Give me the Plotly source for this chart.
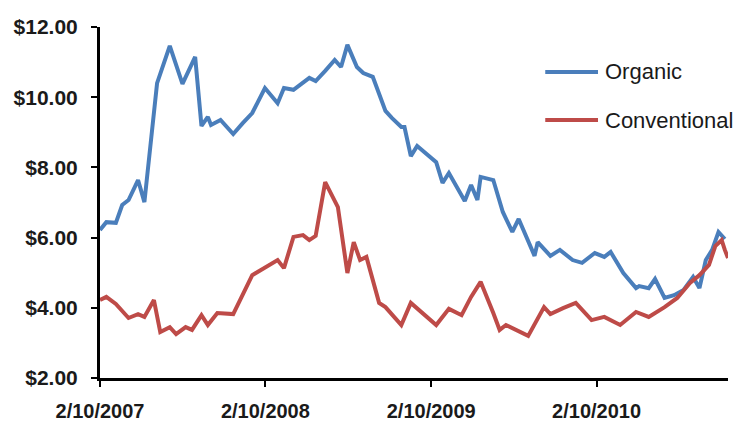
import pandas as pd
import plotly.graph_objects as go

# ---- data (weekly series, weeks counted from 2/10/2007) ----
start_date = "2007-02-10"

organic_weeks = [0, 2, 5, 7, 9, 12, 14, 18, 22, 26, 30, 32, 34, 35, 38, 42, 45, 48, 52, 56,
                 58, 61, 66, 68, 71, 74, 76, 78, 81, 83, 86, 90, 92, 95, 96, 98, 100, 106, 108, 110,
                 115, 117, 119, 120, 124, 127, 130, 132, 137, 138, 142, 145, 149, 152, 156, 159, 161, 165, 169, 170,
                 173, 175, 178, 181, 184, 187, 189, 191, 193, 195, 197]
organic_price = [6.22, 6.44, 6.42, 6.93, 7.07, 7.64, 7.01, 10.40, 11.46, 10.38, 11.15, 9.18, 9.44, 9.21, 9.35, 8.95, 9.26, 9.55, 10.26, 9.83,
                 10.26, 10.21, 10.55, 10.46, 10.75, 11.06, 10.86, 11.49, 10.86, 10.69, 10.58, 9.61, 9.41, 9.15, 9.15, 8.32, 8.61, 8.15, 7.56, 7.84,
                 7.04, 7.50, 7.07, 7.73, 7.64, 6.73, 6.16, 6.53, 5.48, 5.87, 5.48, 5.65, 5.36, 5.28, 5.56, 5.45, 5.59, 4.99, 4.56, 4.62,
                 4.56, 4.82, 4.28, 4.36, 4.51, 4.88, 4.56, 5.36, 5.65, 6.16, 5.96]

conventional_weeks = [0, 2, 5, 9, 12, 14, 17, 19, 22, 24, 27, 29, 32, 34, 37, 42, 48, 51, 56, 58,
                      61, 64, 66, 68, 71, 75, 78, 80, 82, 84, 88, 90, 95, 98, 106, 110, 114, 117, 120, 124,
                      126, 128, 132, 135, 140, 142, 146, 150, 155, 159, 164, 169, 173, 178, 182, 186, 189, 192, 194, 196,
                      197, 198]
conventional_price = [4.22, 4.31, 4.11, 3.71, 3.82, 3.74, 4.22, 3.31, 3.45, 3.25, 3.45, 3.37, 3.79, 3.51, 3.85, 3.82, 4.93, 5.08, 5.36, 5.13,
                      6.02, 6.07, 5.93, 6.05, 7.58, 6.87, 4.99, 5.87, 5.36, 5.45, 4.14, 4.02, 3.51, 4.14, 3.51, 3.97, 3.79, 4.31, 4.74, 3.85,
                      3.37, 3.51, 3.34, 3.20, 4.02, 3.82, 3.99, 4.14, 3.65, 3.74, 3.51, 3.88, 3.74, 4.02, 4.28, 4.71, 4.93, 5.22, 5.76, 5.93,
                      5.65, 5.42]

series_names = ["Organic", "Conventional"]
series_colors = ["#4A7EBB", "#BE4B48"]

x_tick_dates = ["2007-02-10", "2008-02-10", "2009-02-10", "2010-02-10"]
x_tick_labels = ["2/10/2007", "2/10/2008", "2/10/2009", "2/10/2010"]
y_tick_values = [2, 4, 6, 8, 10, 12]
x_range_weeks = [0, 198]

# ---- build ----
t0 = pd.Timestamp(start_date)
def to_dates(weeks):
    return [t0 + pd.Timedelta(weeks=w) for w in weeks]

fig = go.Figure()
for name, weeks, vals, col in [
    (series_names[0], organic_weeks, organic_price, series_colors[0]),
    (series_names[1], conventional_weeks, conventional_price, series_colors[1]),
]:
    fig.add_trace(go.Scatter(x=to_dates(weeks), y=vals, mode="lines", name=name,
                             line=dict(color=col, width=4), showlegend=False))

y_font = dict(family="Liberation Sans", size=21, color="#1a1a1a", weight="bold")
x_font = dict(family="Liberation Sans", size=20, color="#1a1a1a", weight="bold")

fig.update_layout(
    width=737, height=423, autosize=False,
    margin=dict(l=100, r=9, t=27, b=45),
    paper_bgcolor="white", plot_bgcolor="white",
    xaxis=dict(
        type="date", automargin=False,
        range=[t0 + pd.Timedelta(weeks=x_range_weeks[0]), t0 + pd.Timedelta(weeks=x_range_weeks[1])],
        tickmode="array", tickvals=x_tick_dates, ticktext=x_tick_labels,
        showgrid=False, zeroline=False,
        showline=True, linecolor="black", linewidth=3,
        ticks="outside", ticklen=6, tickwidth=2, tickcolor="black",
        tickfont=x_font, ticklabelstandoff=7,
    ),
    yaxis=dict(
        range=[2, 12], tickmode="array", tickvals=y_tick_values, tickformat="$.2f",
        automargin=False,
        showgrid=False, zeroline=False,
        showline=True, linecolor="black", linewidth=3,
        ticks="outside", ticklen=6, tickwidth=2, tickcolor="black",
        tickfont=y_font, ticklabelstandoff=9,
    ),
)

# legend drawn as key lines + text
legend_rows_y = [0.872, 0.735]
for name, col, yy in zip(series_names, series_colors, legend_rows_y):
    fig.add_shape(type="line", xref="paper", yref="paper", x0=0.709, x1=0.793, y0=yy, y1=yy,
                  line=dict(color=col, width=4))
    fig.add_annotation(xref="paper", yref="paper", x=0.801, y=yy, text=name, showarrow=False,
                       xanchor="left", yanchor="middle",
                       font=dict(family="Liberation Sans", size=22, color="#1a1a1a"))

fig.write_html("out.html")
